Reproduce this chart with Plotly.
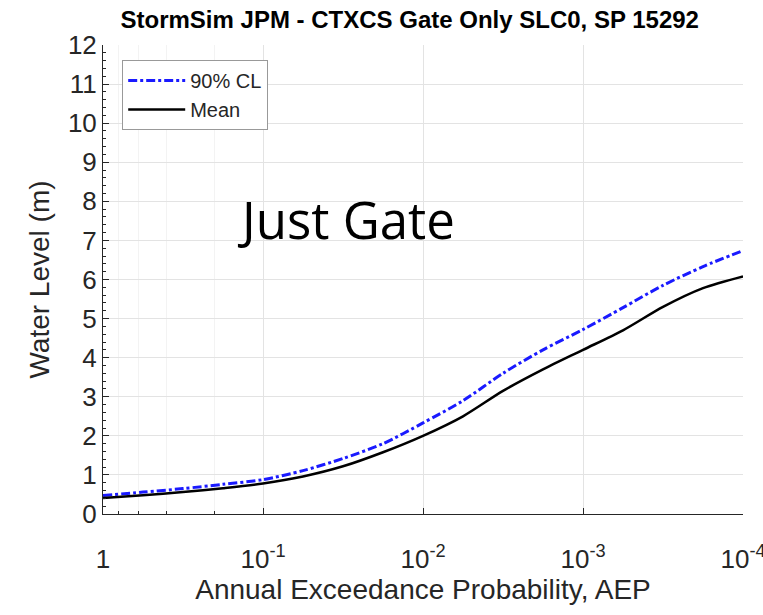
import plotly.graph_objects as go

# Data
aep_exp = [0, -0.25, -0.5, -0.75, -1, -1.25, -1.5, -1.75, -2, -2.25, -2.5, -2.75, -3, -3.25, -3.5, -3.75, -4]
aep = [10 ** e for e in aep_exp]
mean_wl = [0.41, 0.48, 0.56, 0.66, 0.78, 0.96, 1.22, 1.58, 2.00, 2.50, 3.15, 3.70, 4.20, 4.70, 5.30, 5.78, 6.08]
cl90_wl = [0.47, 0.56, 0.65, 0.76, 0.88, 1.11, 1.42, 1.80, 2.33, 2.90, 3.60, 4.20, 4.72, 5.28, 5.85, 6.33, 6.74]

x_tickvals = [1, 1e-1, 1e-2, 1e-3, 1e-4]
x_ticktext = ["1", "10<sup>-1</sup>", "10<sup>-2</sup>", "10<sup>-3</sup>", "10<sup>-4</sup>"]
y_tickvals = list(range(0, 13))

FONT = "Liberation Sans, Arial, sans-serif"

fig = go.Figure()
fig.add_trace(go.Scatter(x=aep, y=cl90_wl, mode="lines", name="90% CL",
                         line=dict(color="#1a1aff", width=3, dash="dashdot", shape="spline", smoothing=0.8)))
fig.add_trace(go.Scatter(x=aep, y=mean_wl, mode="lines", name="Mean",
                         line=dict(color="black", width=2.5, shape="spline", smoothing=0.8)))

fig.update_layout(
    width=763, height=615,
    margin=dict(l=103, r=20, t=45, b=101),
    paper_bgcolor="white", plot_bgcolor="white",
    font=dict(family=FONT, color="#262626"),
    title=dict(text="<b>StormSim JPM - CTXCS Gate Only SLC0, SP 15292</b>",
               x=0.537, xanchor="center", y=0.982, yanchor="top",
               font=dict(size=24, color="black", family=FONT)),
    showlegend=True,
    legend=dict(x=0.03, y=0.968, xanchor="left", yanchor="top",
                bgcolor="white", bordercolor="#999999", borderwidth=1,
                font=dict(size=20, color="#262626"), itemwidth=57,
                tracegroupgap=0),
    annotations=[dict(text="Just Gate", x=0.379, y=0.63, xref="paper", yref="paper",
                      showarrow=False, xanchor="center", yanchor="middle",
                      font=dict(size=51, color="black", family="Open Sans, Lato, sans-serif"))],
)

fig.update_xaxes(
    type="log", range=[0, -4], automargin=False,
    tickvals=x_tickvals, ticktext=x_ticktext, ticklabeloverflow="allow",
    tickfont=dict(size=26), ticks="inside", ticklen=6, tickcolor="#262626",
    ticklabelstandoff=22,
    showline=True, linecolor="#262626", linewidth=1,
    showgrid=True, gridcolor="#e3e3e3", gridwidth=1,
    minor=dict(showgrid=True, gridcolor="#f3f3f3", ticks="inside", ticklen=3, tickcolor="#262626"),
    title=dict(text="Annual Exceedance Probability, AEP", font=dict(size=28), standoff=6),
    zeroline=False,
)
fig.update_yaxes(
    range=[0, 12], tickvals=y_tickvals, automargin=False,
    tickfont=dict(size=26), ticks="inside", ticklen=6, tickcolor="#262626",
    showline=True, linecolor="#262626", linewidth=1,
    showgrid=True, gridcolor="#e3e3e3", gridwidth=1,
    minor=dict(dtick=0.2, ticks="inside", ticklen=3, tickcolor="#262626", showgrid=False),
    title=dict(text="Water Level (m)", font=dict(size=28), standoff=10),
    zeroline=False,
)

fig.write_html("out.html")
